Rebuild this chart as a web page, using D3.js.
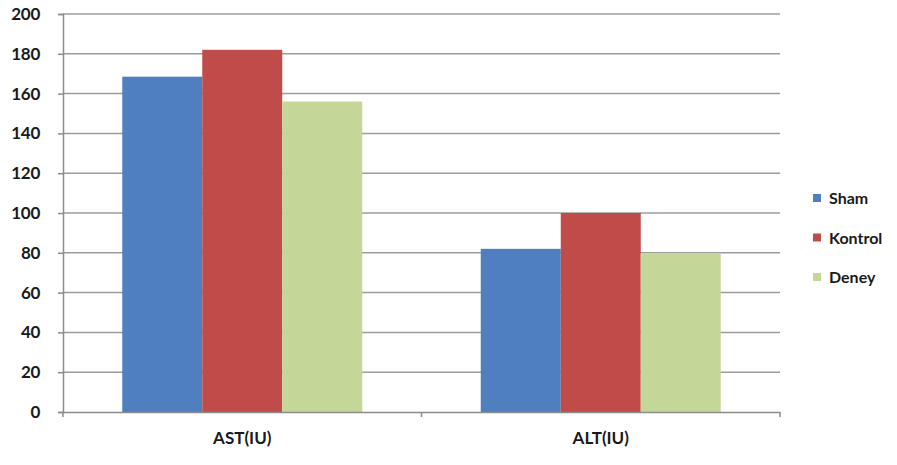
<!DOCTYPE html>
<html>
<head>
<meta charset="utf-8">
<script src="https://cdn.jsdelivr.net/npm/d3@7"></script>
<style>
  body { margin: 0; background: #fff; }
  text { font-family: Lato, "Open Sans", sans-serif; font-weight: bold; fill: #1a1a1a; }
</style>
</head>
<body>
<script>
// chart data
var categories = ['AST(IU)', 'ALT(IU)'];
var series_names = ['Sham', 'Kontrol', 'Deney'];
var sham_values = [168.5, 82];
var kontrol_values = [182, 100];
var deney_values = [156, 79.5];
var y_ticks = [0, 20, 40, 60, 80, 100, 120, 140, 160, 180, 200];

function draw() {
  "use strict";
  var series_values = [sham_values, kontrol_values, deney_values];
  var colors = ['#4f7fbe', '#bf4c49', '#c4d799'];

  var width = 897, height = 465;
  var plot_left = 63, plot_right = 780, plot_top = 14, plot_bottom = 412;

  var svg = d3.select('body').append('svg')
    .attr('width', width)
    .attr('height', height);

  var y = d3.scaleLinear().domain([0, 200]).range([plot_bottom, plot_top]);
  var x = d3.scaleBand().domain(categories).range([plot_left, plot_right]);
  var group_width = 240;
  var inner = d3.scaleBand().domain(series_names).range([0, group_width]);

  // gridlines
  svg.append('g').selectAll('line')
    .data(y_ticks.filter(function(d) { return d > 0; }))
    .enter().append('line')
    .attr('x1', plot_left).attr('x2', plot_right)
    .attr('y1', function(d) { return y(d); })
    .attr('y2', function(d) { return y(d); })
    .style('stroke', '#9c9c9c')
    .style('stroke-width', 1.5);

  // bars
  var rows = [];
  categories.forEach(function(c, ci) {
    series_names.forEach(function(s, si) {
      rows.push({cat: c, series: s, value: series_values[si][ci], color: colors[si]});
    });
  });

  svg.append('g').selectAll('rect')
    .data(rows)
    .enter().append('rect')
    .attr('x', function(d) { return x(d.cat) + (x.bandwidth() - group_width) / 2 + inner(d.series); })
    .attr('width', inner.bandwidth())
    .attr('y', function(d) { return y(d.value); })
    .attr('height', function(d) { return plot_bottom - y(d.value); })
    .style('fill', function(d) { return d.color; });

  // y axis
  var y_axis = svg.append('g')
    .attr('transform', 'translate(' + plot_left + ',0)')
    .call(d3.axisLeft(y).tickValues(y_ticks).tickSize(5).tickPadding(18));
  y_axis.select('.domain').style('stroke', '#8c8c8c').style('stroke-width', 1.5);
  y_axis.selectAll('.tick line').style('stroke', '#8c8c8c').style('stroke-width', 1.5);
  y_axis.selectAll('.tick text')
    .style('font-family', 'Lato, sans-serif')
    .style('font-weight', 'bold')
    .style('font-size', '17px')
    .style('letter-spacing', '-0.3px')
    .attr('fill', '#1a1a1a');

  // x axis
  var x_axis = svg.append('g')
    .attr('transform', 'translate(0,' + plot_bottom + ')')
    .call(d3.axisBottom(x).tickSize(0).tickPadding(20));
  x_axis.select('.domain').style('stroke', '#8c8c8c').style('stroke-width', 1.5);
  x_axis.selectAll('.tick text')
    .style('font-family', 'Lato, sans-serif')
    .style('font-weight', 'bold')
    .style('font-size', '17px')
    .attr('fill', '#1a1a1a');

  // category separator ticks
  svg.append('g').selectAll('line')
    .data([plot_left, x(categories[1]), plot_right])
    .enter().append('line')
    .attr('x1', function(d) { return d; })
    .attr('x2', function(d) { return d; })
    .attr('y1', plot_bottom).attr('y2', plot_bottom + 5)
    .style('stroke', '#8c8c8c')
    .style('stroke-width', 1.5);

  // legend
  var legend = svg.append('g').attr('transform', 'translate(813,198)');
  var item = legend.selectAll('g')
    .data(series_names)
    .enter().append('g')
    .attr('transform', function(d, i) { return 'translate(0,' + (i * 39.5) + ')'; });
  item.append('rect')
    .attr('x', 0).attr('y', -4)
    .attr('width', 8).attr('height', 8)
    .style('fill', function(d, i) { return colors[i]; });
  item.append('text')
    .attr('x', 16).attr('y', 6)
    .style('font-size', '16px')
    .text(function(d) { return d; });
}

draw();
</script>
</body>
</html>
